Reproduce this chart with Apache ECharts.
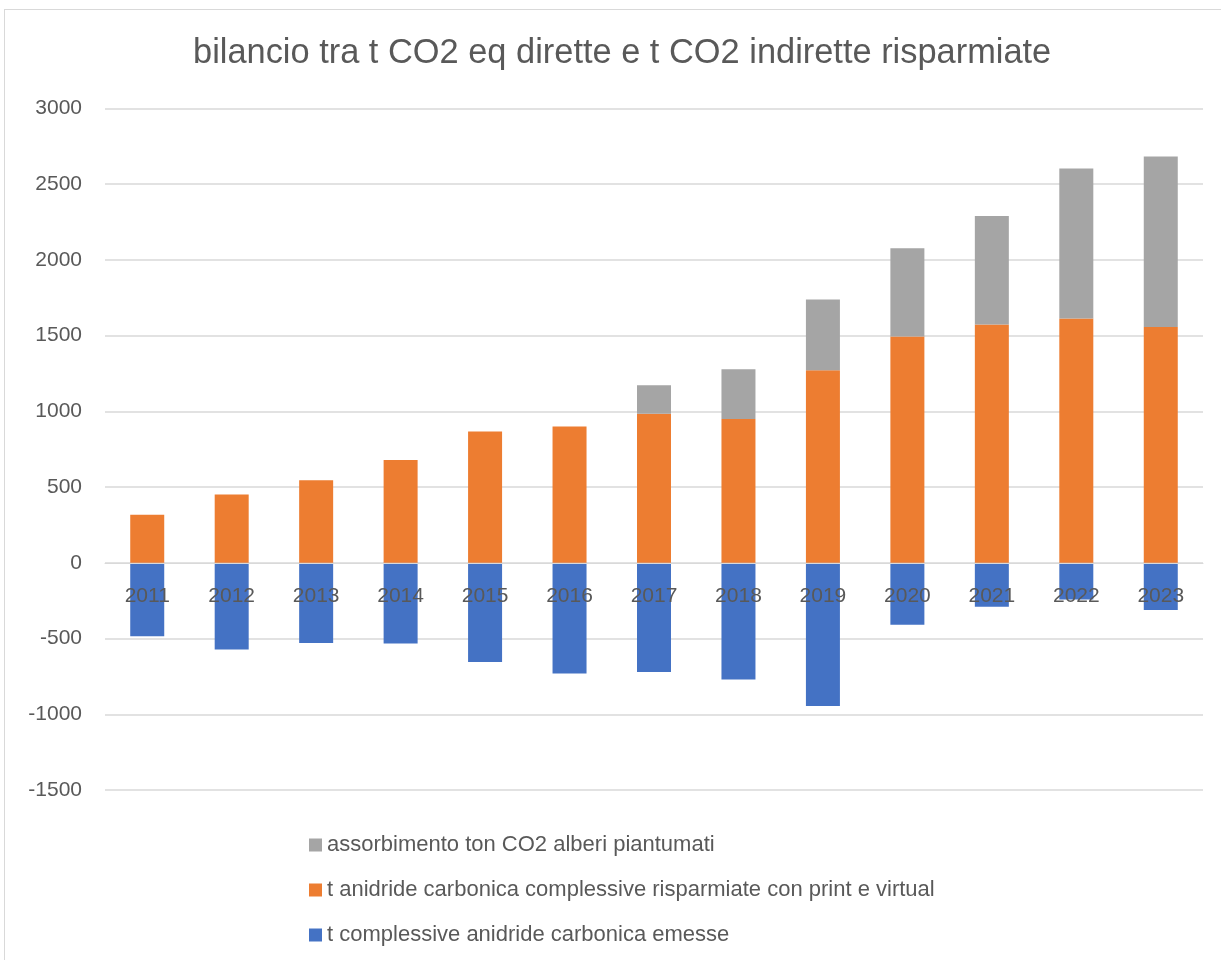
<!DOCTYPE html>
<html>
<head>
<meta charset="utf-8">
<script src="https://cdn.jsdelivr.net/npm/echarts@6/dist/echarts.min.js"></script>
<style>
  html, body { margin: 0; padding: 0; background: #fff; }
  #frame { position: absolute; left: 4px; top: 9px; width: 1240px; height: 980px; border: 1px solid #d9d9d9; }
  #chart { position: absolute; left: 0; top: 0; width: 1221px; height: 960px; }
</style>
</head>
<body>
<div id="frame"></div>
<div id="chart"></div>
<script>
var years = ['2011', '2012', '2013', '2014', '2015', '2016', '2017', '2018', '2019', '2020', '2021', '2022', '2023'];
var emesse = [-484, -572, -530, -532, -655, -730, -721, -771, -945, -409, -290, -242, -312];
var risparmiate = [318, 452, 545, 679, 868, 900, 984, 949, 1272, 1494, 1573, 1613, 1558];
var alberi = [0, 0, 0, 0, 0, 0, 189, 330, 466, 583, 717, 991, 1125];

var yMin = -1500;
var yMax = 3000;

var nameEmesse = 't complessive anidride carbonica emesse';
var nameRisp = 't anidride carbonica complessive risparmiate con print e virtual';
var nameAlberi = 'assorbimento ton CO2 alberi piantumati';

var font = 'Liberation Sans';
var txt = '#595959';

var gridTop = 108.5, gridBottom = 170, chartH = 960;
// move the category axis up onto the zero line
var plotH = chartH - gridTop - gridBottom;
var zeroOffset = -plotH * (0 - yMin) / (yMax - yMin);

var chart = echarts.init(document.getElementById('chart'));

var options = {
	animation: false,
	title: {
		text: 'bilancio tra t CO2 eq dirette e t CO2 indirette risparmiate',
		left: 188,
		top: 32,
		textStyle: { fontFamily: font, fontSize: 34.4, fontWeight: 'normal', color: txt }
	},
	legend: {
		orient: 'vertical',
		left: 304,
		top: 829,
		itemWidth: 13,
		itemHeight: 13,
		itemGap: 23,
		icon: 'rect',
		data: [nameAlberi, nameRisp, nameEmesse],
		textStyle: { fontFamily: font, fontSize: 22, color: txt, lineHeight: 20 }
	},
	grid: { left: 105, right: 18, top: gridTop, bottom: gridBottom },
	xAxis: {
		type: 'category',
		data: years,
		offset: zeroOffset,
		z: 5,
		axisLine: { onZero: false, lineStyle: { color: '#d9d9d9' } },
		axisTick: { show: false },
		axisLabel: { fontFamily: font, fontSize: 21, color: txt, margin: 23 }
	},
	yAxis: {
		type: 'value',
		min: yMin,
		max: yMax,
		interval: 500,
		axisLabel: {
			fontFamily: font, fontSize: 21, color: txt, margin: 23,
			formatter: function (v) { return String(v); }
		},
		splitLine: { lineStyle: { color: '#d9d9d9', width: 1.5 } }
	},
	series: [
		{
			name: nameEmesse, type: 'bar', stack: 'tot', data: emesse, barWidth: 34,
			itemStyle: { color: '#4472C4' }
		},
		{
			name: nameRisp, type: 'bar', stack: 'tot', data: risparmiate, barWidth: 34,
			itemStyle: { color: '#ED7D31' }
		},
		{
			name: nameAlberi, type: 'bar', stack: 'tot', data: alberi, barWidth: 34,
			itemStyle: { color: '#A5A5A5' }
		}
	]
};

chart.setOption(options);
</script>
</body>
</html>
